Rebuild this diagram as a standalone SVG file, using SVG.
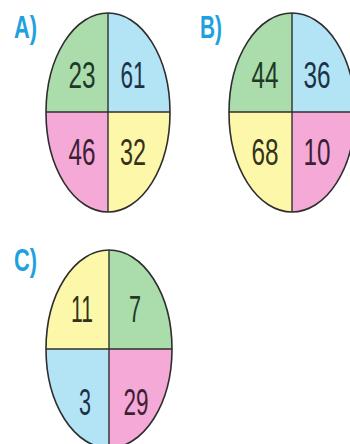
<svg xmlns="http://www.w3.org/2000/svg" width="350" height="444" viewBox="0 0 350 444">
<style>
.lbl{font-family:"Liberation Sans",Arial,sans-serif;font-weight:bold;font-size:32px;fill:#1ea2de}
.num{font-family:"Liberation Sans",Arial,sans-serif;font-size:37px;text-anchor:middle}
.g{fill:#abdcab}.b{fill:#b2e4f6}.p{fill:#f5a9d7}.y{fill:#fdf8a9}
.tg{fill:#1d3a28}.tb{fill:#1c3347}.tp{fill:#3d1f35}.ty{fill:#34321c}
.edge{fill:none;stroke:#2e2e2e;stroke-width:1.6}
.div{stroke:#2e2e2e;stroke-width:1.4}
</style>
<defs>
<clipPath id="cA"><ellipse cx="108" cy="112.5" rx="62" ry="99.5"/></clipPath>
<clipPath id="cB"><ellipse cx="292" cy="112.5" rx="63" ry="99.5"/></clipPath>
<clipPath id="cC"><ellipse cx="109" cy="349" rx="63" ry="99"/></clipPath>
</defs>
<rect width="350" height="444" fill="#ffffff"/>
<g id="labelA"><text class="lbl" x="14" y="38" textLength="23" lengthAdjust="spacingAndGlyphs">A)</text></g>
<g id="labelB"><text class="lbl" x="200" y="38" textLength="22" lengthAdjust="spacingAndGlyphs">B)</text></g>
<g id="labelC"><text class="lbl" x="14" y="271" textLength="23" lengthAdjust="spacingAndGlyphs">C)</text></g>
<g id="circleA">
<g clip-path="url(#cA)">
<rect class="g" x="40" y="0" width="68" height="112"/>
<rect class="b" x="108" y="0" width="70" height="112"/>
<rect class="p" x="40" y="112" width="68" height="110"/>
<rect class="y" x="108" y="112" width="70" height="110"/>
<line class="div" x1="108" y1="0" x2="108" y2="222"/>
<line class="div" x1="40" y1="112" x2="178" y2="112"/>
</g>
<ellipse class="edge" cx="108" cy="112.5" rx="62" ry="99.5"/>
<text class="num tg" x="82" y="88" textLength="27" lengthAdjust="spacingAndGlyphs">23</text>
<text class="num tb" x="133" y="88" textLength="25" lengthAdjust="spacingAndGlyphs">61</text>
<text class="num tp" x="82" y="165" textLength="27" lengthAdjust="spacingAndGlyphs">46</text>
<text class="num ty" x="133" y="165" textLength="26" lengthAdjust="spacingAndGlyphs">32</text>
</g>
<g id="circleB">
<g clip-path="url(#cB)">
<rect class="g" x="225" y="0" width="67" height="112"/>
<rect class="b" x="292" y="0" width="70" height="112"/>
<rect class="y" x="225" y="112" width="67" height="110"/>
<rect class="p" x="292" y="112" width="70" height="110"/>
<line class="div" x1="292" y1="0" x2="292" y2="222"/>
<line class="div" x1="225" y1="112" x2="362" y2="112"/>
</g>
<ellipse class="edge" cx="292" cy="112.5" rx="63" ry="99.5"/>
<text class="num tg" x="265" y="88" textLength="27" lengthAdjust="spacingAndGlyphs">44</text>
<text class="num tb" x="317" y="88" textLength="27" lengthAdjust="spacingAndGlyphs">36</text>
<text class="num ty" x="265" y="165" textLength="27" lengthAdjust="spacingAndGlyphs">68</text>
<text class="num tp" x="317" y="165" textLength="27" lengthAdjust="spacingAndGlyphs">10</text>
</g>
<g id="circleC">
<g clip-path="url(#cC)">
<rect class="y" x="40" y="240" width="69" height="109"/>
<rect class="g" x="109" y="240" width="70" height="109"/>
<rect class="b" x="40" y="349" width="69" height="110"/>
<rect class="p" x="109" y="349" width="70" height="110"/>
<line class="div" x1="109" y1="240" x2="109" y2="459"/>
<line class="div" x1="40" y1="349" x2="179" y2="349"/>
</g>
<ellipse class="edge" cx="109" cy="349" rx="63" ry="99"/>
<text class="num ty" x="82" y="322" textLength="22" lengthAdjust="spacingAndGlyphs">11</text>
<text class="num tg" x="135" y="322" textLength="12" lengthAdjust="spacingAndGlyphs">7</text>
<text class="num tb" x="85" y="415" textLength="12" lengthAdjust="spacingAndGlyphs">3</text>
<text class="num tp" x="136" y="415" textLength="25" lengthAdjust="spacingAndGlyphs">29</text>
</g>
<g id="connectors"/>
</svg>
